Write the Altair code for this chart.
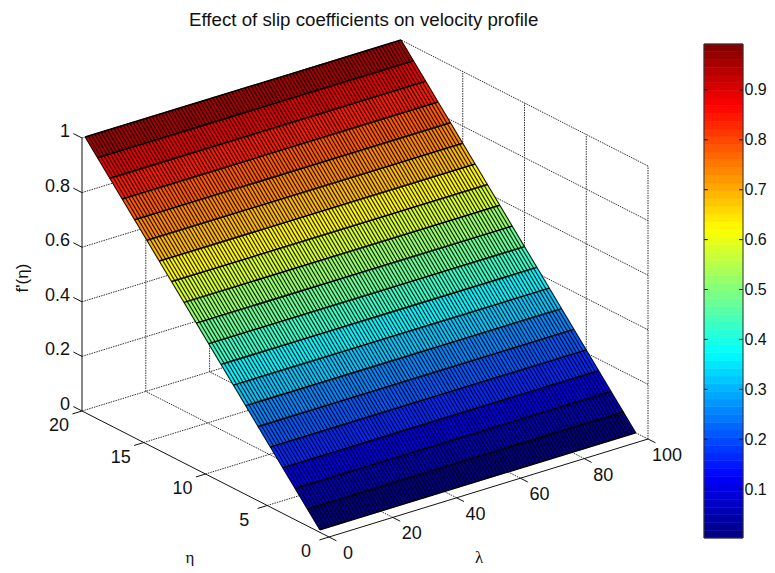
import altair as alt

# ---- data ----
lambda_grid = [float(i) for i in range(1, 101)]
eta_grid = [1.0, 2.0, 3.0, 4.0, 5.0, 6.0, 7.0, 8.0, 9.0, 10.0, 11.0, 12.0, 13.0, 14.0, 15.0, 16.0, 17.0, 18.0, 19.0, 20.0]
f_values = [0.0, 0.053, 0.105, 0.158, 0.211, 0.263, 0.316, 0.368, 0.421, 0.474,
            0.526, 0.579, 0.632, 0.684, 0.737, 0.789, 0.842, 0.895, 0.947, 1.0]
lambda_ticks = [0, 20, 40, 60, 80, 100]
eta_ticks = [0, 5, 10, 15, 20]
z_ticks = [0, 0.2, 0.4, 0.6, 0.8, 1]
z_labels = ["0", "0.2", "0.4", "0.6", "0.8", "1"]
cbar_ticks = [0.1, 0.2, 0.3, 0.4, 0.5, 0.6, 0.7, 0.8, 0.9]
CMIN, CMAX = 0.002, 0.992

# ---- view (page pixels of the box corners) ----
W, H = 759, 533
OX, OY = 8, 32
ORIGIN = (329.0, 536.0)
V_LAM = (319.0 / 100, -98.0 / 100)
V_ETA = (-247.0 / 20, -126.0 / 20)
V_Z = (0.0, -273.0)


def proj(lam, eta, z):
    return [ORIGIN[0] + V_LAM[0] * lam + V_ETA[0] * eta + V_Z[0] * z,
            ORIGIN[1] + V_LAM[1] * lam + V_ETA[1] * eta + V_Z[1] * z]


def line(a, b, **props):
    return {"type": "Feature", "properties": props,
            "geometry": {"type": "LineString", "coordinates": [proj(*a), proj(*b)]}}


def fc(features):
    return alt.Data(values={"type": "FeatureCollection", "features": features},
                    format=alt.DataFormat(property="features", type="json"))


def jet(n=64):
    out = []
    for i in range(n):
        t = (i + 0.5) / n
        r = min(4 * t - 1.5, -4 * t + 4.5)
        g = min(4 * t - 0.5, -4 * t + 3.5)
        b = min(4 * t + 0.5, -4 * t + 2.5)
        c = [int(round(255 * max(0, min(1, v)))) for v in (r, g, b)]
        out.append("#%02x%02x%02x" % tuple(c))
    return out


JET = jet()
color_scale = alt.Scale(type="quantize", domain=[CMIN, CMAX], range=JET)
projection = dict(type="identity", scale=1, translate=[-OX, -OY])
FONT = "Liberation Sans"

# ---- box, grid, ticks ----
grid = []
for l in lambda_ticks[1:]:
    grid.append(line((l, 0, 0), (l, 20, 0)))
    grid.append(line((l, 20, 0), (l, 20, 1)))
for e in eta_ticks[1:]:
    grid.append(line((0, e, 0), (100, e, 0)))
    grid.append(line((100, e, 0), (100, e, 1)))
for z in z_ticks[1:]:
    grid.append(line((0, 20, z), (100, 20, z)))
    grid.append(line((100, 0, z), (100, 20, z)))
grid.append(line((100, 0, 0), (100, 0, 1)))

axes = [line((0, 0, 0), (100, 0, 0)), line((0, 0, 0), (0, 20, 0)), line((0, 20, 0), (0, 20, 1))]
for l in lambda_ticks:
    axes.append(line((l, 0, 0), (l, -0.6, 0)))
for e in eta_ticks:
    axes.append(line((0, e, 0), (-3, e, 0)))
for z in z_ticks:
    axes.append(line((0, 20, z), (0, 20.7, z)))

grid_layer = alt.Chart(fc(grid)).mark_geoshape(filled=False, stroke="#333333", strokeWidth=1, strokeDash=[1.5, 1]).project(**projection)
axes_layer = alt.Chart(fc(axes)).mark_geoshape(filled=False, stroke="#111111", strokeWidth=1).project(**projection)

# ---- surface ----
strips = []
for i in range(len(eta_grid) - 1):
    corners = [proj(lambda_grid[0], eta_grid[i], f_values[i]),
               proj(lambda_grid[-1], eta_grid[i], f_values[i]),
               proj(lambda_grid[-1], eta_grid[i + 1], f_values[i + 1]),
               proj(lambda_grid[0], eta_grid[i + 1], f_values[i + 1])]
    strips.append({"type": "Feature", "properties": {"f": f_values[i]},
                   "geometry": {"type": "Polygon", "coordinates": [corners + [corners[0]]]}})

surface = alt.Chart(fc(strips)).mark_geoshape(strokeWidth=0.5).encode(
    fill=alt.Fill("properties.f:Q", scale=color_scale, legend=None),
    stroke=alt.Stroke("properties.f:Q", scale=color_scale, legend=None),
).project(**projection)

mesh_l = [line((l, eta_grid[0], f_values[0]), (l, eta_grid[-1], f_values[-1])) for l in lambda_grid]
mesh_e = [line((lambda_grid[0], e, f), (lambda_grid[-1], e, f)) for e, f in zip(eta_grid, f_values)]
mesh_l_layer = alt.Chart(fc(mesh_l)).mark_geoshape(filled=False, stroke="#000000", strokeWidth=1.15, strokeOpacity=0.9).project(**projection)
mesh_e_layer = alt.Chart(fc(mesh_e)).mark_geoshape(filled=False, stroke="#000000", strokeWidth=1.5).project(**projection)

# ---- tick labels and axis names ----
labels = []
for l in lambda_ticks:
    p = proj(l, 0, 0)
    labels.append({"lon": p[0], "lat": p[1], "t": str(l), "dx": 19, "dy": 17})
for e in eta_ticks:
    p = proj(0, e, 0)
    labels.append({"lon": p[0], "lat": p[1], "t": str(e), "dx": -23, "dy": 15})
for z, t in zip(z_ticks, z_labels):
    p = proj(0, 20, z)
    labels.append({"lon": p[0], "lat": p[1], "t": t, "dx": -12, "dy": -6})

tick_text = []
for d in labels:
    align = "right" if d["dy"] == -6 else "center"
    tick_text.append(
        alt.Chart(alt.Data(values=[d])).mark_text(
            font=FONT, fontSize=18, color="#111111", align=align, baseline="middle", dx=d["dx"], dy=d["dy"]
        ).encode(longitude="lon:Q", latitude="lat:Q", text="t:N").project(**projection)
    )

names = [
    {"lon": 190, "lat": 557, "t": "η", "angle": 0},
    {"lon": 479, "lat": 557, "t": "λ", "angle": 0},
    {"lon": 23, "lat": 277, "t": "f'(η)", "angle": 270},
]
name_text = [
    alt.Chart(alt.Data(values=[d])).mark_text(
        font="Liberation Serif" if d["angle"] == 0 else FONT, fontSize=17, color="#111111",
        align="center", baseline="middle", angle=d["angle"]
    ).encode(longitude="lon:Q", latitude="lat:Q", text="t:N").project(**projection)
    for d in names
]

# ---- colour bar ----
n = len(JET)
cells = [{"v0": CMIN + (CMAX - CMIN) * i / n, "v1": CMIN + (CMAX - CMIN) * (i + 1) / n, "x0": 0, "x1": 1,
          "c": CMIN + (CMAX - CMIN) * (i + 0.5) / n} for i in range(n)]
y_cb = alt.Scale(domain=[CMIN, CMAX], range=[537 - OY, 43 - OY], nice=False, zero=False)
x_cb = alt.Scale(domain=[0, 1], range=[704 - OX, 743 - OX])
cb_axis = alt.Axis(
    orient="right", values=cbar_ticks, format=".1f", offset=-(W + OX - 743), ticks=False, domain=False,
    grid=False, title=None, labelFont=FONT, labelFontSize=16, labelColor="#111111", labelPadding=1)

cbar = alt.Chart(alt.Data(values=cells)).mark_rect(strokeWidth=0.6).encode(
    x=alt.X("x0:Q", scale=x_cb, axis=None),
    x2="x1:Q",
    y=alt.Y("v0:Q", scale=y_cb, axis=cb_axis),
    y2="v1:Q",
    fill=alt.Fill("c:Q", scale=color_scale, legend=None),
    stroke=alt.Stroke("c:Q", scale=color_scale, legend=None),
)
frame = alt.Chart(alt.Data(values=[{"a": 0, "b": 1, "lo": CMIN, "hi": CMAX}])).mark_rect(
    filled=False, stroke="#333333", strokeWidth=1
).encode(x=alt.X("a:Q", scale=x_cb, axis=None), x2="b:Q", y=alt.Y("lo:Q", scale=y_cb, axis=cb_axis), y2="hi:Q")

ticks_data = [{"v": v, "a": a, "b": b} for v in cbar_ticks for a, b in ((0, 0.1), (0.9, 1))]
cb_ticks = alt.Chart(alt.Data(values=ticks_data)).mark_rule(color="#111111", strokeWidth=1).encode(
    x=alt.X("a:Q", scale=x_cb, axis=None), x2="b:Q", y=alt.Y("v:Q", scale=y_cb, axis=cb_axis)
)

chart = alt.layer(
    grid_layer, axes_layer, surface, mesh_l_layer, mesh_e_layer,
    *tick_text, *name_text, cbar, cb_ticks, frame,
).properties(
    width=W, height=H, padding={"left": 0, "right": 0, "top": 3, "bottom": 0},
    title=alt.TitleParams("Effect of slip coefficients on velocity profile", font=FONT, fontSize=18.7,
                          fontWeight="normal", color="#111111", anchor="start", dx=181, offset=3),
).configure_view(stroke=None)

chart.save("out.html", embed_options={"renderer": "svg", "actions": False})
